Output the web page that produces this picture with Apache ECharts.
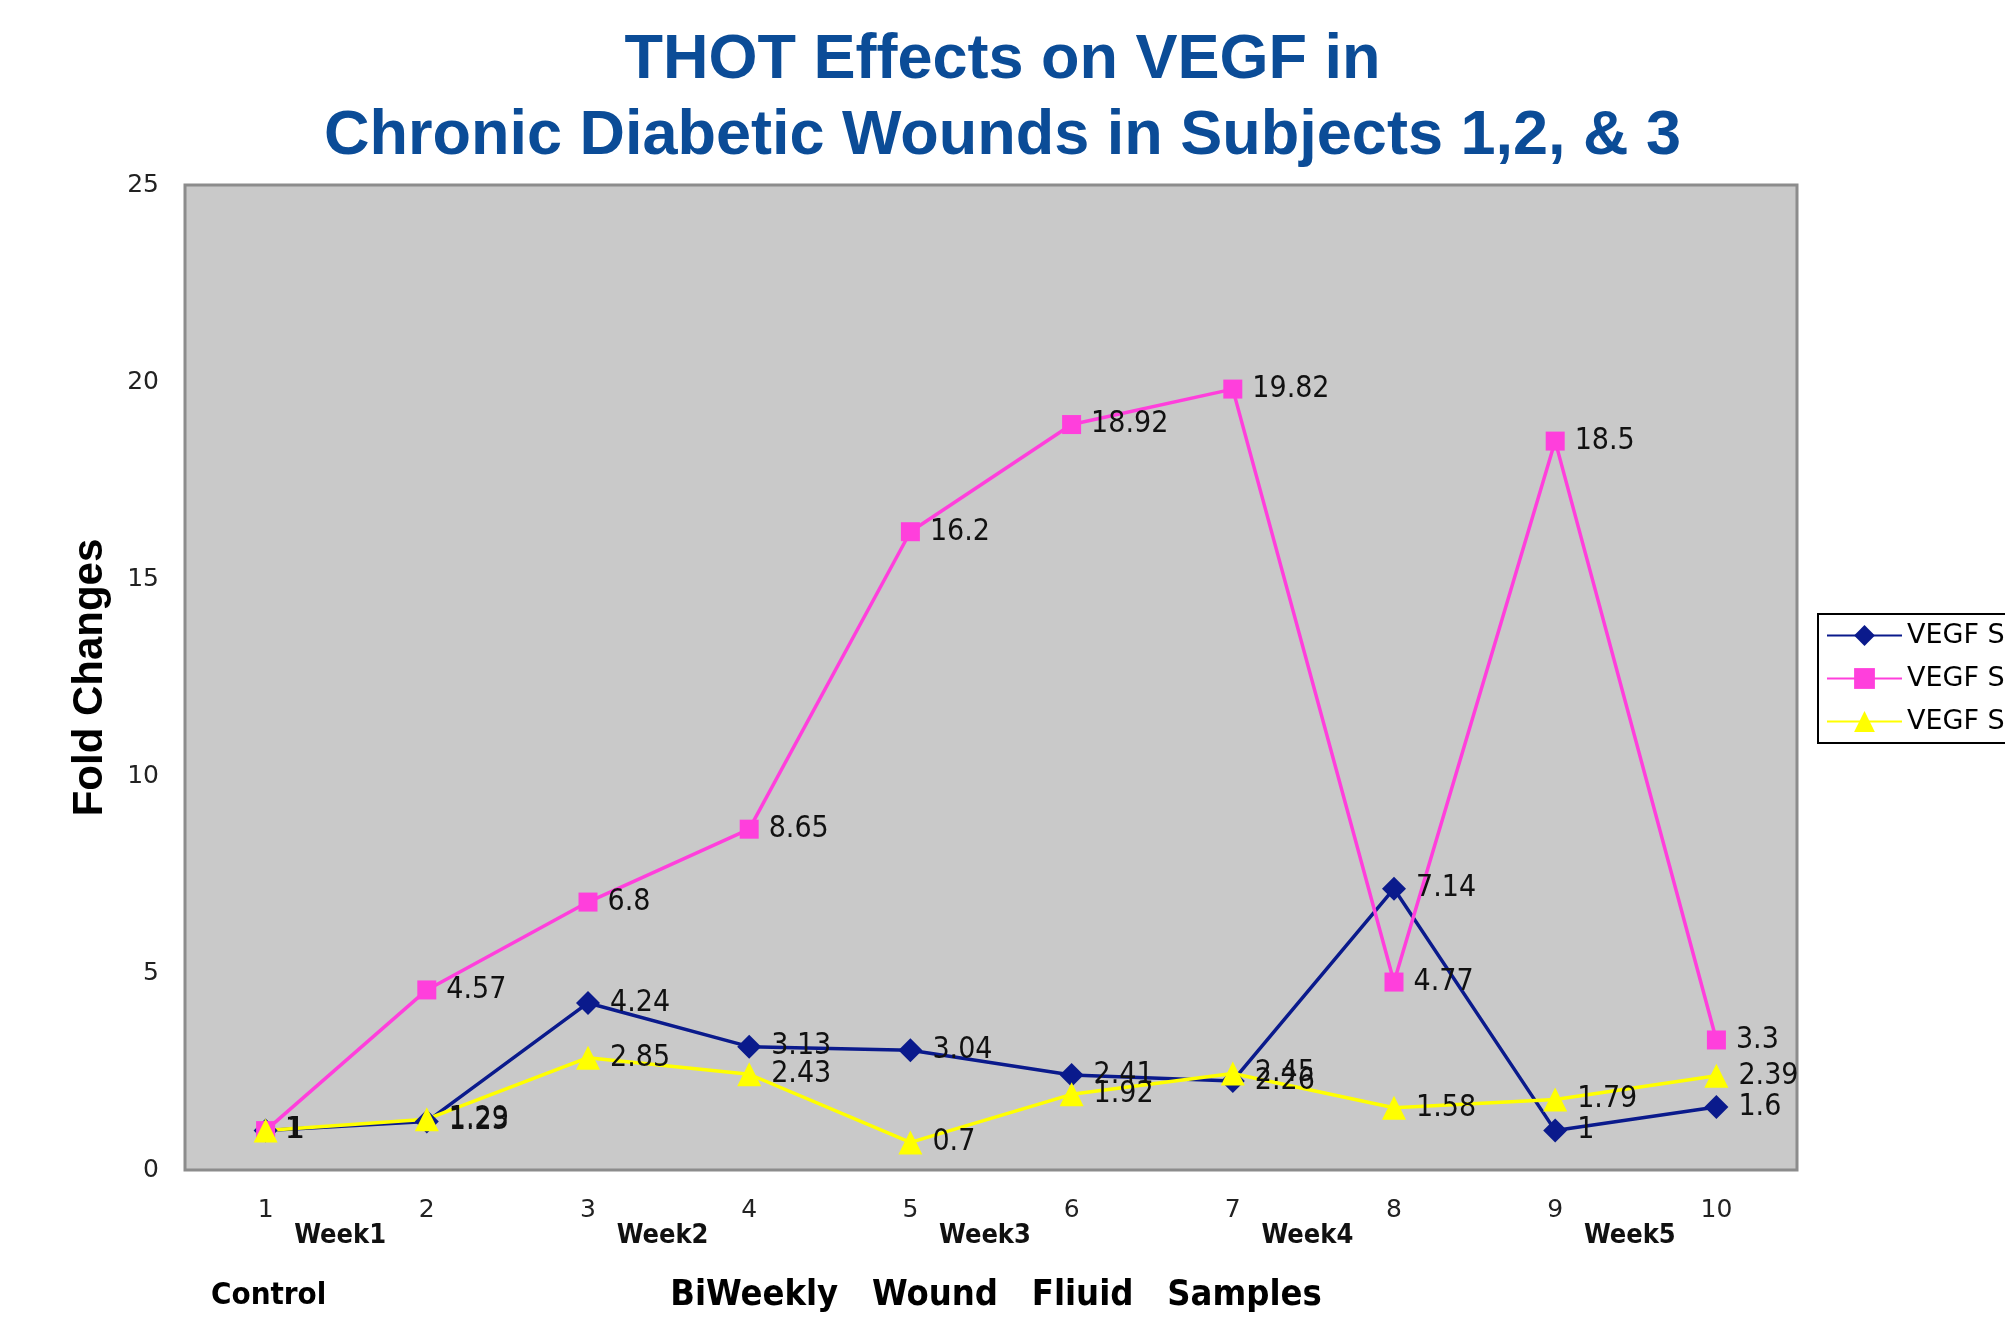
<!DOCTYPE html>
<html>
<head>
<meta charset="utf-8">
<script src="https://cdn.jsdelivr.net/npm/echarts@6/dist/echarts.min.js"></script>
<style>
  html, body { margin: 0; padding: 0; background: #fff; }
  #main { width: 2005px; height: 1322px; }
</style>
</head>
<body>
<div id="main"></div>
<script>
// 样本编号
var samples = ['1', '2', '3', '4', '5', '6', '7', '8', '9', '10'];
// 周次
var weeks = ['Week1', 'Week2', 'Week3', 'Week4', 'Week5'];
// 三个受试者
var seriesNames = ['VEGF S1', 'VEGF S2', 'VEGF S3'];
var subject1 = [1, 1.23, 4.24, 3.13, 3.04, 2.41, 2.26, 7.14, 1, 1.6];
var subject2 = [1, 4.57, 6.8, 8.65, 16.2, 18.92, 19.82, 4.77, 18.5, 3.3];
var subject3 = [1, 1.29, 2.85, 2.43, 0.7, 1.92, 2.45, 1.58, 1.79, 2.39];

var chart = echarts.init(document.getElementById('main'));

function makeSeries(name, data, color, symbol, size) {
    return {
        name: name,
        type: 'line',
        data: data,
        xAxisIndex: 0,
        symbol: symbol,
        symbolSize: size,
        lineStyle: { color: color, width: 3.5 },
        itemStyle: { color: color },
        label: {
            show: true,
            position: 'right',
            distance: 10,
            color: '#111',
            fontSize: 30,
            fontFamily: '"Liberation Sans Narrow", "DejaVu Sans Condensed", sans-serif'
        }
    };
}

var option = {
    backgroundColor: '#ffffff',
    animation: false,
    title: {
        text: 'THOT Effects on VEGF in\nChronic Diabetic Wounds in Subjects 1,2, & 3',
        left: 'center',
        top: 23,
        padding: [0, 36, 0, 0],
        textStyle: {
            color: '#0b4c97',
            fontSize: 63,
            fontWeight: 'bold',
            fontFamily: '"Liberation Sans", Arial, sans-serif',
            lineHeight: 76
        }
    },
    legend: {
        orient: 'vertical',
        left: 1818,
        top: 614,
        padding: [8, 10, 8, 8],
        itemGap: 16,
        itemWidth: 75,
        itemHeight: 26,
        borderColor: '#000',
        borderWidth: 2,
        backgroundColor: '#fff',
        data: seriesNames,
        textStyle: {
            fontSize: 27,
            color: '#000',
            fontFamily: '"DejaVu Sans", sans-serif'
        }
    },
    grid: {
        left: 185,
        right: 208,
        top: 185,
        bottom: 152,
        show: true,
        backgroundColor: '#c9c9c9',
        borderColor: '#8c8c8c',
        borderWidth: 3
    },
    xAxis: [
        {
            type: 'category',
            data: samples,
            boundaryGap: true,
            axisLine: { show: false },
            axisTick: { show: false },
            axisLabel: {
                margin: 28,
                color: '#222',
                fontSize: 25,
                fontFamily: '"DejaVu Sans", sans-serif'
            },
            name: 'BiWeekly   Wound   Fliuid   Samples',
            nameLocation: 'middle',
            nameGap: 108,
            nameTextStyle: {
                color: '#000',
                fontSize: 36,
                fontWeight: 'bold',
                fontFamily: '"DejaVu Sans Condensed", "DejaVu Sans", sans-serif',
                padding: [0, 0, 0, 10]
            }
        },
        {
            // 周次标签
            type: 'category',
            position: 'bottom',
            data: weeks,
            boundaryGap: true,
            axisLine: { show: false },
            axisTick: { show: false },
            axisLabel: {
                margin: 52,
                color: '#111',
                fontSize: 27,
                fontWeight: 'bold',
                fontFamily: '"DejaVu Sans Condensed", "DejaVu Sans", sans-serif',
                padding: [0, 12, 0, 0]
            }
        }
    ],
    yAxis: {
        type: 'value',
        min: 0,
        max: 25,
        interval: 5,
        splitLine: { show: false },
        axisLine: { show: false },
        axisTick: { show: false },
        axisLabel: {
            margin: 26,
            color: '#222',
            fontSize: 25,
            fontFamily: '"DejaVu Sans", sans-serif'
        },
        name: 'Fold Changes',
        nameLocation: 'middle',
        nameGap: 74,
        nameTextStyle: {
            color: '#000',
            fontSize: 42,
            fontWeight: 'bold',
            fontFamily: '"Liberation Sans Narrow", "Liberation Sans", sans-serif'
        }
    },
    graphic: [
        {
            type: 'text',
            left: 211,
            top: 1280,
            style: {
                text: 'Control',
                fill: '#000',
                fontSize: 31,
                fontWeight: 'bold',
                fontFamily: '"DejaVu Sans Condensed", "DejaVu Sans", sans-serif'
            }
        }
    ],
    series: [
        makeSeries(seriesNames[0], subject1, '#0a1a8c', 'diamond', 24),
        makeSeries(seriesNames[1], subject2, '#ff3fdc', 'rect', 19),
        makeSeries(seriesNames[2], subject3, '#ffff00', 'triangle', 24)
    ]
};

chart.setOption(option);
</script>
</body>
</html>
